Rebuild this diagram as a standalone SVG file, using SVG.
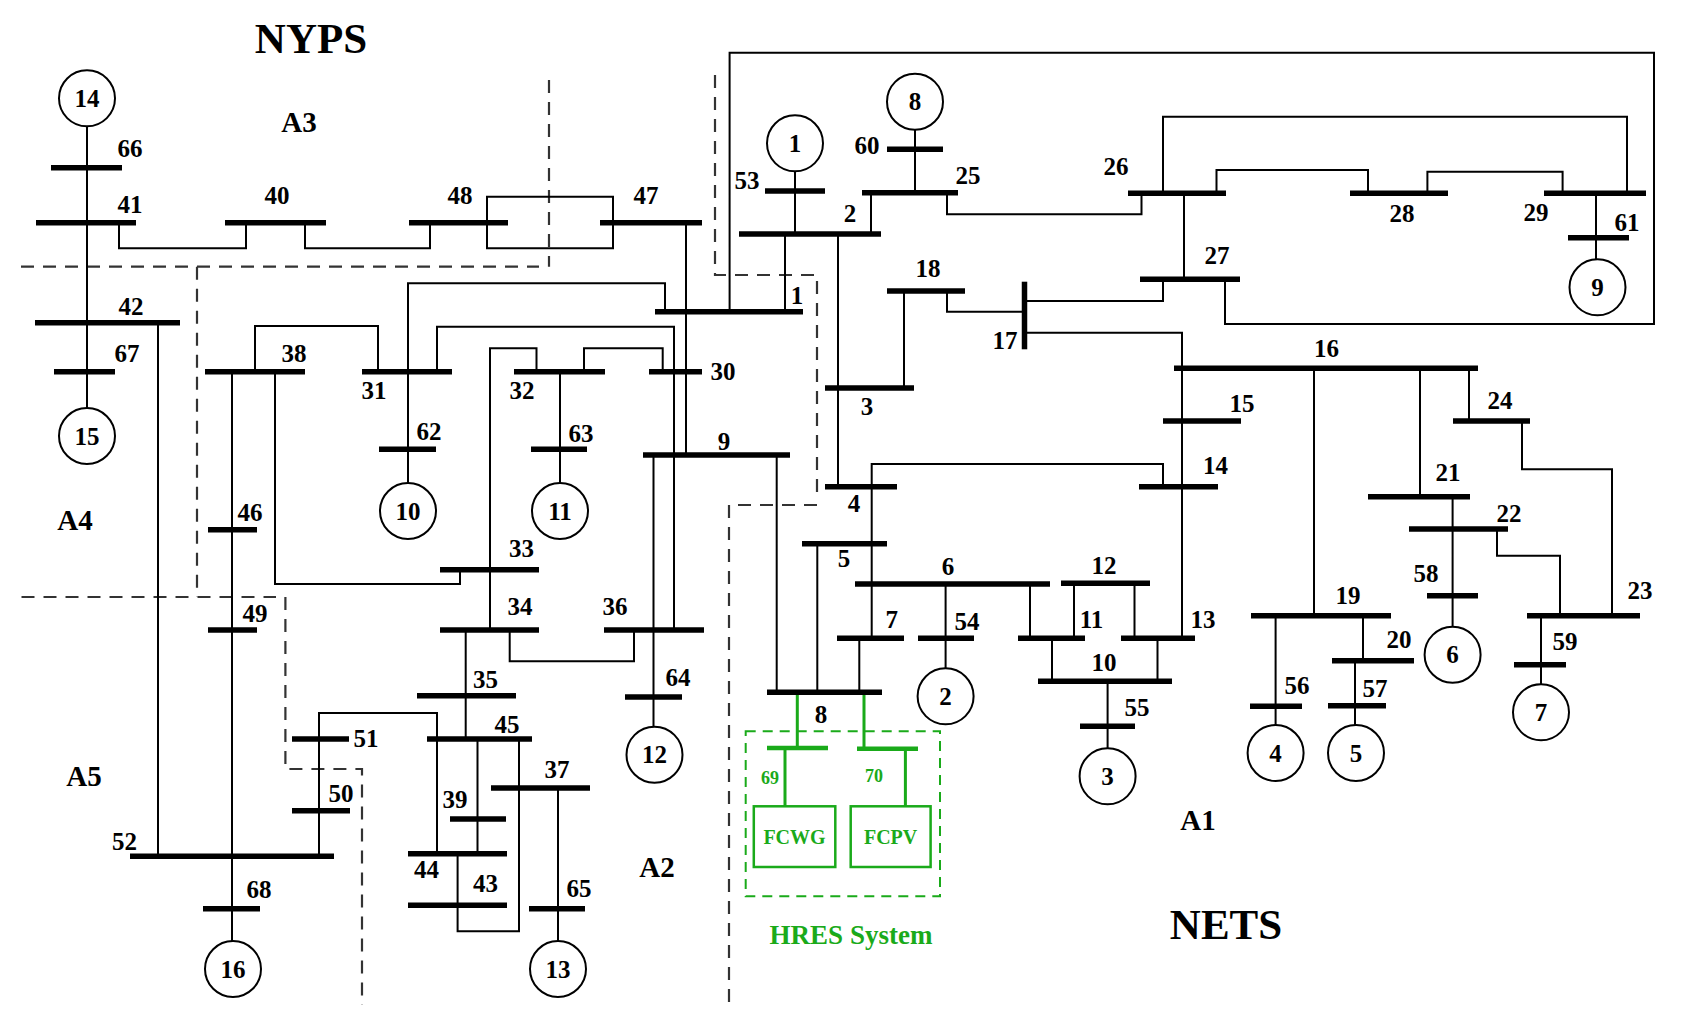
<svg xmlns="http://www.w3.org/2000/svg" width="1682" height="1027" viewBox="0 0 1682 1027">
<style>
.b{stroke:#000;stroke-width:5.5}
.l{fill:none;stroke:#000;stroke-width:2}
.d{fill:none;stroke:#333;stroke-width:2.2;stroke-dasharray:13 9}
.g{fill:#fff;stroke:#000;stroke-width:2}
.gb{stroke:#1aaa1a;stroke-width:4.5}
.gl{fill:none;stroke:#1aaa1a;stroke-width:3}
.gd{fill:none;stroke:#1aaa1a;stroke-width:2;stroke-dasharray:10 7}
text{font-family:"Liberation Serif","Times New Roman",serif;font-weight:bold;text-anchor:middle;dominant-baseline:central}
.t{font-size:25px;fill:#000}
.a{font-size:29px;fill:#000}
.h{font-size:43px;fill:#000}
.gt{fill:#1aaa1a}
</style>
<rect width="1682" height="1027" fill="#fff"/>
<g id="areas">
<path class="d" d="M21,266.7H539M549,80V266.7M197,266.7V597M21.5,597H276M285.4,597V769H362V1004.7M715,75V275H817V493M817,505H729V1004.7"/>
</g>
<g id="connectors">
<path class="l" d="M87,126.3V408M119,222.7V248.3H246V222.7M305,222.7V248.3H430V222.7M487,196.7H613V248.3H487ZM158,322.7V856.3M232,371.7V941M255,371.7V326H378V371.7M275,371.7V584H460V569.7M408,371.7V283.3H665V311.7M408,371.7V483M437,371.7V326.7H674V630M536.5,371.7V348.3H490V630M584,371.7V348.3H662.7V371.7M560,371.7V483M686,222.7V455M653.5,455V726.7M776.7,455V692.3M795,171.3V234M785,234V311.7M729.6,311.7V52.7H1654V324H1225V279.3M838,234V486.7M871,234V192.7M915,129.7V192.7M947,192.7V214.3H1141.5V193.3M1163,193.3V116.7H1627V193.3M1216.5,193.3V170H1368V193.3M1427.4,193.3V171.7H1562.6V193.3M1596,193.3V259.3M1184,193.3V279.3M1163,279.3V301H1024.5M947,291V311.7H1024.5M904,291V388M1024.5,332.7H1182V638.3M1314,368.3V615.7M1420,368.3V496.7M1452.6,496.7V626.7M1469,368.3V421M1522,421V469.3H1612V615.7M1497,529V555.7H1560V615.7M1541,615.7V684.3M871.7,486.7V464H1163V486.7M871.7,486.7V638.3M817.3,543.7V692.3M859.3,638.3V692.3M945.6,584V668.3M1030,584V638.3M1074,583.3V638.3M1134.5,583.3V638.3M1052,638.3V681.3M1157.5,638.3V681.3M1107.6,681.3V748.3M1275.6,615.7V725M1363,615.7V660.7M1355,660.7V725M465.7,630V739M509.7,630V661.3H634V630M437,853.7V713H319V856.3M477.5,739V853.7M519,739V931.3H457.6V853.7M558,788V941"/>
<path class="gl" d="M797.3,692.3V748M785,748V806.3M864,692.3V748.7M905.4,748.7V806.3"/>
</g>
<g id="buses">
<line class="b" x1="51" x2="122" y1="167.7" y2="167.7"/>
<line class="b" x1="36" x2="136" y1="222.7" y2="222.7"/>
<line class="b" x1="225" x2="326" y1="222.7" y2="222.7"/>
<line class="b" x1="409" x2="508" y1="222.7" y2="222.7"/>
<line class="b" x1="600" x2="702" y1="222.7" y2="222.7"/>
<line class="b" x1="35" x2="180" y1="322.7" y2="322.7"/>
<line class="b" x1="54" x2="115" y1="371.7" y2="371.7"/>
<line class="b" x1="205" x2="305" y1="371.7" y2="371.7"/>
<line class="b" x1="362" x2="452" y1="371.7" y2="371.7"/>
<line class="b" x1="514" x2="605" y1="371.7" y2="371.7"/>
<line class="b" x1="649" x2="702" y1="371.7" y2="371.7"/>
<line class="b" x1="379" x2="436" y1="449.3" y2="449.3"/>
<line class="b" x1="531" x2="587" y1="449.3" y2="449.3"/>
<line class="b" x1="643" x2="790" y1="455" y2="455"/>
<line class="b" x1="765" x2="825" y1="191" y2="191"/>
<line class="b" x1="739" x2="881" y1="234" y2="234"/>
<line class="b" x1="655" x2="803" y1="311.7" y2="311.7"/>
<line class="b" x1="887" x2="943" y1="149.3" y2="149.3"/>
<line class="b" x1="862" x2="958" y1="192.7" y2="192.7"/>
<line class="b" x1="1128" x2="1226" y1="193.3" y2="193.3"/>
<line class="b" x1="1350" x2="1448" y1="193.3" y2="193.3"/>
<line class="b" x1="1544" x2="1646" y1="193.3" y2="193.3"/>
<line class="b" x1="1568" x2="1629" y1="237.7" y2="237.7"/>
<line class="b" x1="1140" x2="1240" y1="279.3" y2="279.3"/>
<line class="b" x1="1024.5" x2="1024.5" y1="281.7" y2="349.3"/>
<line class="b" x1="887" x2="965" y1="291" y2="291"/>
<line class="b" x1="825" x2="914" y1="388" y2="388"/>
<line class="b" x1="1174" x2="1478" y1="368.3" y2="368.3"/>
<line class="b" x1="1453" x2="1530" y1="421" y2="421"/>
<line class="b" x1="1163" x2="1241" y1="421" y2="421"/>
<line class="b" x1="1139" x2="1218" y1="486.7" y2="486.7"/>
<line class="b" x1="825" x2="897" y1="486.7" y2="486.7"/>
<line class="b" x1="1368" x2="1470" y1="496.7" y2="496.7"/>
<line class="b" x1="208" x2="257" y1="529.7" y2="529.7"/>
<line class="b" x1="208" x2="257" y1="630" y2="630"/>
<line class="b" x1="440" x2="539" y1="569.7" y2="569.7"/>
<line class="b" x1="440" x2="539" y1="630" y2="630"/>
<line class="b" x1="604" x2="704" y1="630" y2="630"/>
<line class="b" x1="625" x2="682" y1="697" y2="697"/>
<line class="b" x1="417" x2="516" y1="695.7" y2="695.7"/>
<line class="b" x1="427" x2="532" y1="739" y2="739"/>
<line class="b" x1="292" x2="349" y1="739" y2="739"/>
<line class="b" x1="292" x2="350" y1="810.7" y2="810.7"/>
<line class="b" x1="130" x2="334" y1="856.3" y2="856.3"/>
<line class="b" x1="203" x2="260" y1="908.7" y2="908.7"/>
<line class="b" x1="450" x2="506" y1="819" y2="819"/>
<line class="b" x1="408" x2="507" y1="853.7" y2="853.7"/>
<line class="b" x1="408" x2="507" y1="905.3" y2="905.3"/>
<line class="b" x1="491" x2="590" y1="788" y2="788"/>
<line class="b" x1="529" x2="585" y1="908.7" y2="908.7"/>
<line class="b" x1="767" x2="882" y1="692.3" y2="692.3"/>
<line class="b" x1="802" x2="887" y1="543.7" y2="543.7"/>
<line class="b" x1="855" x2="1050" y1="584" y2="584"/>
<line class="b" x1="837" x2="904" y1="638.3" y2="638.3"/>
<line class="b" x1="918" x2="974" y1="638.3" y2="638.3"/>
<line class="b" x1="1018" x2="1085" y1="638.3" y2="638.3"/>
<line class="b" x1="1061" x2="1150" y1="583.3" y2="583.3"/>
<line class="b" x1="1121" x2="1195" y1="638.3" y2="638.3"/>
<line class="b" x1="1038" x2="1172" y1="681.3" y2="681.3"/>
<line class="b" x1="1080" x2="1135" y1="726.3" y2="726.3"/>
<line class="b" x1="1251" x2="1391" y1="615.7" y2="615.7"/>
<line class="b" x1="1332" x2="1414" y1="660.7" y2="660.7"/>
<line class="b" x1="1250" x2="1302" y1="706.3" y2="706.3"/>
<line class="b" x1="1328" x2="1386" y1="705.7" y2="705.7"/>
<line class="b" x1="1409" x2="1508" y1="529" y2="529"/>
<line class="b" x1="1427" x2="1478" y1="595.7" y2="595.7"/>
<line class="b" x1="1527" x2="1640" y1="615.7" y2="615.7"/>
<line class="b" x1="1514" x2="1566" y1="664.7" y2="664.7"/>
</g>
<g id="generators">
<circle class="g" cx="87" cy="98.3" r="28"/>
<circle class="g" cx="87" cy="436" r="28"/>
<circle class="g" cx="408" cy="511" r="28"/>
<circle class="g" cx="560" cy="511" r="28"/>
<circle class="g" cx="233" cy="969" r="28"/>
<circle class="g" cx="558" cy="969" r="28"/>
<circle class="g" cx="654.5" cy="754.7" r="28"/>
<circle class="g" cx="795" cy="143.3" r="28"/>
<circle class="g" cx="915" cy="101.7" r="28"/>
<circle class="g" cx="1597.5" cy="287.3" r="28"/>
<circle class="g" cx="945.6" cy="696.3" r="28"/>
<circle class="g" cx="1107.6" cy="776.3" r="28"/>
<circle class="g" cx="1275.6" cy="753" r="28"/>
<circle class="g" cx="1356" cy="753" r="28"/>
<circle class="g" cx="1452.6" cy="654.7" r="28"/>
<circle class="g" cx="1541" cy="712.3" r="28"/>
<g class="t">
<text x="87" y="98.3">14</text><text x="87" y="436">15</text><text x="408" y="511">10</text><text x="560" y="511">11</text><text x="233" y="969">16</text><text x="558" y="969">13</text><text x="654.5" y="754.7">12</text><text x="795" y="143.3">1</text><text x="915" y="101.7">8</text><text x="1597.5" y="287.3">9</text><text x="945.6" y="696.3">2</text><text x="1107.6" y="776.3">3</text><text x="1275.6" y="753">4</text><text x="1356" y="753">5</text><text x="1452.6" y="654.7">6</text><text x="1541" y="712.3">7</text>
</g>
</g>
<g id="hres">
<rect class="gd" x="745.7" y="731.3" width="194.3" height="165"/>
<line class="gb" x1="767" x2="828" y1="748" y2="748"/>
<line class="gb" x1="857" x2="918" y1="748.7" y2="748.7"/>
<rect x="753.8" y="806.3" width="81.5" height="60.7" fill="#fff" stroke="#1aaa1a" stroke-width="2.5"/>
<rect x="850.7" y="806.3" width="79.9" height="60.7" fill="#fff" stroke="#1aaa1a" stroke-width="2.5"/>
<text class="gt" x="794.5" y="836.7" font-size="20">FCWG</text>
<text class="gt" x="890.6" y="836.7" font-size="20">FCPV</text>
<text class="gt" x="770" y="778" font-size="18">69</text>
<text class="gt" x="874" y="776.3" font-size="18">70</text>
<text class="gt" x="851" y="934.7" font-size="27">HRES System</text>
</g>
<g id="labels" class="t">
<text x="130" y="148">66</text><text x="130" y="204">41</text><text x="277" y="195">40</text><text x="460" y="195">48</text><text x="646" y="195">47</text><text x="131" y="306.7">42</text><text x="127" y="353">67</text><text x="294" y="353">38</text><text x="374" y="390">31</text><text x="522" y="390.7">32</text><text x="723" y="371.7">30</text><text x="429" y="431.7">62</text><text x="581" y="433.3">63</text><text x="724" y="441.7">9</text><text x="747" y="180">53</text><text x="850" y="213">2</text><text x="797" y="295">1</text><text x="867" y="145.7">60</text><text x="968" y="175.7">25</text><text x="1116" y="166.7">26</text><text x="1402" y="213.3">28</text><text x="1536" y="212.7">29</text><text x="1627" y="222.7">61</text><text x="1217" y="255">27</text><text x="928" y="268">18</text><text x="1005" y="340">17</text><text x="867" y="406.7">3</text><text x="1326.5" y="348.3">16</text><text x="1242" y="403.3">15</text><text x="1500" y="400">24</text><text x="1215.5" y="465">14</text><text x="854" y="503">4</text><text x="1448" y="472.7">21</text><text x="250" y="512">46</text><text x="255" y="613.7">49</text><text x="521.5" y="548">33</text><text x="520" y="606.3">34</text><text x="615" y="606.3">36</text><text x="678" y="677">64</text><text x="485.5" y="679.7">35</text><text x="507" y="724.7">45</text><text x="366" y="738">51</text><text x="341" y="793">50</text><text x="124.5" y="841.3">52</text><text x="259" y="889.7">68</text><text x="455" y="799">39</text><text x="426.5" y="869.7">44</text><text x="485.5" y="883">43</text><text x="557" y="769.7">37</text><text x="579" y="888">65</text><text x="821" y="714.7">8</text><text x="844" y="558">5</text><text x="948" y="566.3">6</text><text x="891.7" y="619">7</text><text x="967" y="621.3">54</text><text x="1091.5" y="619">11</text><text x="1104" y="565.7">12</text><text x="1203" y="619.7">13</text><text x="1104" y="662">10</text><text x="1137" y="707">55</text><text x="1348" y="595.7">19</text><text x="1399" y="639.7">20</text><text x="1297" y="685.3">56</text><text x="1375" y="688">57</text><text x="1509" y="513">22</text><text x="1426" y="573">58</text><text x="1640" y="590.7">23</text><text x="1565" y="641.3">59</text>
</g>
<g id="titles">
<text class="a" x="299" y="121.7">A3</text><text class="a" x="75" y="519.7">A4</text><text class="a" x="84" y="776.3">A5</text><text class="a" x="657" y="867">A2</text><text class="a" x="1198" y="819.7">A1</text>
<text class="h" x="311" y="38.3">NYPS</text><text class="h" x="1226" y="924.7">NETS</text>
</g>
</svg>
